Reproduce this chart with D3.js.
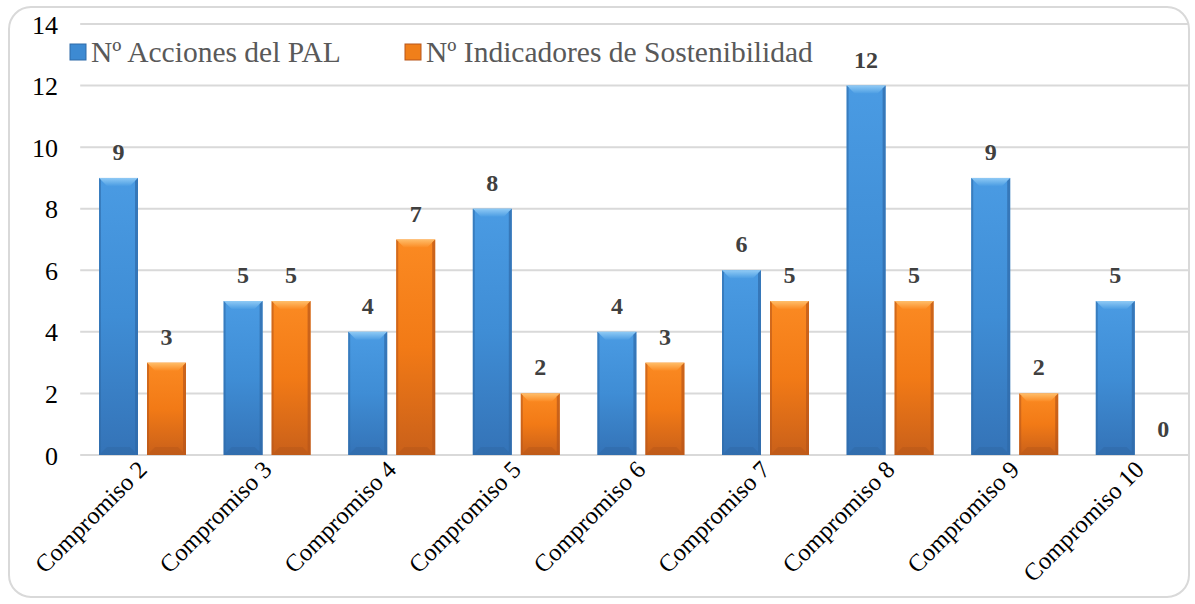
<!DOCTYPE html>
<html>
<head>
<meta charset="utf-8">
<script src="https://cdn.jsdelivr.net/npm/d3@7"></script>
<style>
html,body{margin:0;padding:0;background:#fff;}
svg{display:block;}
svg text{font-family:"Liberation Serif","Times New Roman",serif;}
</style>
</head>
<body>
<svg id="chart" width="1195" height="604"></svg>
<script>
const categories = ["Compromiso 2","Compromiso 3","Compromiso 4","Compromiso 5","Compromiso 6","Compromiso 7","Compromiso 8","Compromiso 9","Compromiso 10"];
const seriesNames = ["Nº Acciones del PAL","Nº Indicadores de Sostenibilidad"];
const accionesPAL = [9,5,4,8,4,6,12,9,5];
const indicadores = [3,5,7,2,3,5,5,2,0];
const yTicks = [0,2,4,6,8,10,12,14];

const svg = d3.select("#chart");
const plot = {left: 80.2, right: 1201.6, top: 24, bottom: 455};

const defs = svg.append("defs");
function grad(id, stops){
  const g = defs.append("linearGradient").attr("id", id)
    .attr("x1",0).attr("y1",0).attr("x2",0).attr("y2",1);
  stops.forEach(s => g.append("stop").attr("offset", s[0]).attr("stop-color", s[1]));
}
grad("gBlue", [[0,"#4a9be3"],[0.5,"#3f8dd5"],[1,"#3473b7"]]);
grad("gOrange", [[0,"#fb8a22"],[0.5,"#f27a16"],[1,"#c9601a"]]);
grad("gBlueTop", [[0,"#8fcaf5"],[1,"#4c9de3"]]);
grad("gOrangeTop", [[0,"#ffbe6a"],[1,"#fb8b24"]]);
const palette = [
  {fill:"url(#gBlue)", top:"url(#gBlueTop)", side:"#2f6aa8", bottom:"#2a5f98", legend:"#3d8ad2"},
  {fill:"url(#gOrange)", top:"url(#gOrangeTop)", side:"#b8561a", bottom:"#a94e17", legend:"#f07f1a"}
];

// chart frame
svg.append("rect").attr("x",9).attr("y",7).attr("width",1180).attr("height",590)
  .attr("rx",22).attr("ry",22).attr("fill","#fff").attr("stroke","#d9d9d9").attr("stroke-width",2);

const x = d3.scaleBand().domain(categories).range([plot.left, plot.right]).padding(0);
const xs = d3.scaleBand().domain([0,1]).range([18.8, x.bandwidth()-18.8]).paddingInner(0.1875).paddingOuter(0);
const y = d3.scaleLinear().domain([0,14]).range([plot.bottom, plot.top]);

// gridlines
svg.append("g").selectAll("line").data(yTicks).join("line")
  .attr("x1", plot.left).attr("x2", 1188)
  .attr("y1", d => y(d)).attr("y2", d => y(d))
  .attr("stroke","#d9d9d9").attr("stroke-width",2);

// y axis labels
const yAxis = d3.axisLeft(y).tickValues(yTicks).tickSize(0).tickPadding(0);
const ya = svg.append("g").attr("transform", `translate(${58},0)`).call(yAxis);
ya.select(".domain").remove();
ya.selectAll("text")
  .style("font-family","\"Liberation Serif\",serif")
  .style("font-size","26px").attr("fill","#000").attr("dy","0.35em");

// bars
const data = categories.map((c,i) => ({cat:c, vals:[accionesPAL[i], indicadores[i]]}));
const groups = svg.append("g").selectAll("g").data(data).join("g")
  .attr("transform", d => `translate(${x(d.cat)},0)`);

groups.each(function(d){
  const g = d3.select(this);
  d.vals.forEach((v,si) => {
    const bx = xs(si), bw = xs.bandwidth();
    const by = y(v), bh = y(0) - y(v);
    const p = palette[si];
    if (bh > 0) {
      const b = Math.min(8, bh/2);
      g.append("rect").attr("x",bx).attr("y",by).attr("width",bw).attr("height",bh).attr("fill",p.fill);
      g.append("path").attr("d", `M${bx},${by}L${bx+bw},${by}L${bx+bw-b},${by+b}L${bx+b},${by+b}Z`).attr("fill",p.top);
      g.append("path").attr("d", `M${bx},${by+bh}L${bx+bw},${by+bh}L${bx+bw-b},${by+bh-b}L${bx+b},${by+bh-b}Z`).attr("fill",p.bottom).attr("opacity",0.3);
      g.append("path").attr("d", `M${bx},${by}L${bx+2},${by+2}L${bx+2},${by+bh-2}L${bx},${by+bh}Z`).attr("fill",p.side).attr("opacity",0.6);
      g.append("path").attr("d", `M${bx+bw},${by}L${bx+bw-3},${by+3}L${bx+bw-3},${by+bh-3}L${bx+bw},${by+bh}Z`).attr("fill",p.side).attr("opacity",0.7);
    }
    g.append("text").attr("x", bx + bw/2).attr("y", by - 18)
      .attr("text-anchor","middle")
      .style("font-weight","bold").style("font-size","24px").attr("fill","#404040")
      .text(v);
  });
});

// category labels
svg.append("g").selectAll("text").data(categories).join("text")
  .attr("transform", d => `translate(${x(d) + x.bandwidth()/2 + 6},${471}) rotate(-45)`)
  .attr("text-anchor","end")
  .style("font-size","24.5px").attr("fill","#000")
  .text(d => d);

// legend
const legendX = [70, 405];
const lg = svg.append("g");
seriesNames.forEach((n,i) => {
  lg.append("rect").attr("x", legendX[i]).attr("y",44).attr("width",16).attr("height",16).attr("fill",palette[i].legend)
    .attr("stroke",palette[i].side).attr("stroke-width",1);
  lg.append("text").attr("x", legendX[i]+21).attr("y",62)
    .style("font-size","29.5px").attr("fill","#595959").text(n);
});
</script>
</body>
</html>
